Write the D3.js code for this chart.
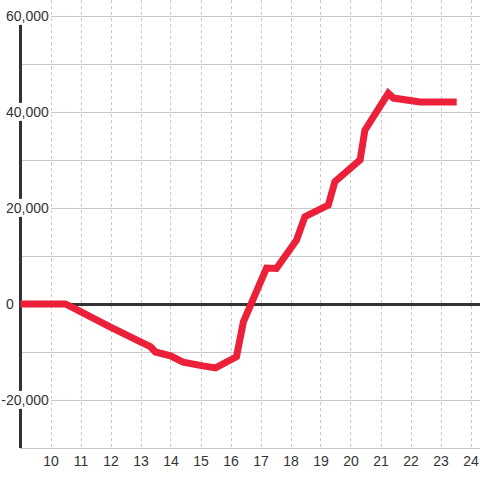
<!DOCTYPE html>
<html>
<head>
<meta charset="utf-8">
<script src="https://cdn.jsdelivr.net/npm/d3@7"></script>
<style>
	body { margin: 0; background: #fff; }
	svg { display: block; }
</style>
</head>
<body>
<div id="chart"></div>
<script>
// hour of day and running value
const hours = [9, 10.5, 11, 12, 13, 13.33, 13.5, 14, 14.42, 15.08, 15.5, 16.2, 16.43, 17.2, 17.53,
	18.2, 18.48, 19.26, 19.48, 20.32, 20.48, 21.26, 21.43, 22.32, 23.54];
const values = [0, 0, -1600, -4800, -7900, -8900, -10000, -10800, -12100, -12900, -13300, -11000, -3700, 7500, 7400,
	13300, 18200, 20600, 25500, 30000, 36200, 43900, 42900, 42100, 42100];
const xTicks = [10, 11, 12, 13, 14, 15, 16, 17, 18, 19, 20, 21, 22, 23, 24];
const yTicks = [-30000, -20000, -10000, 0, 10000, 20000, 30000, 40000, 50000, 60000];
const yLabels = [-20000, 0, 20000, 40000, 60000];

const WIDTH = 480;
const HEIGHT = 480;
const format = d3.format(",d");

const x = d3.scaleLinear().domain([9, 24]).range([20.5, 470.5]);
const y = d3.scaleLinear().domain([-30000, 60000]).range([448, 16]);

const svg = d3
	.select("#chart")
	.append("svg")
	.attr("width", WIDTH)
	.attr("height", HEIGHT)
	.style("font", "14px 'Liberation Sans', Arial, sans-serif");

// dashed vertical grid
svg.append("g")
	.selectAll("line")
	.data(xTicks)
	.join("line")
	.attr("x1", (d) => Math.round(x(d)) + 0.5)
	.attr("x2", (d) => Math.round(x(d)) + 0.5)
	.attr("y1", 0)
	.attr("y2", y(-30000))
	.attr("stroke", "#c8c8c8")
	.attr("stroke-dasharray", "3,3");

// horizontal grid
svg.append("g")
	.selectAll("line")
	.data(yTicks.filter((d) => d !== 0))
	.join("line")
	.attr("x1", 20)
	.attr("x2", WIDTH)
	.attr("y1", (d) => y(d) + 0.5)
	.attr("y2", (d) => y(d) + 0.5)
	.attr("stroke", "#c8c8c8");

// vertical axis line
svg.append("line")
	.attr("x1", 20.5)
	.attr("x2", 20.5)
	.attr("y1", y(60000))
	.attr("y2", y(-30000))
	.attr("stroke", "#333")
	.attr("stroke-width", 3);

// zero line
svg.append("line")
	.attr("x1", 19)
	.attr("x2", WIDTH)
	.attr("y1", y(0) + 0.5)
	.attr("y2", y(0) + 0.5)
	.attr("stroke", "#333")
	.attr("stroke-width", 3);

// y labels with white background
const yLab = svg.append("g")
	.selectAll("g")
	.data(yLabels)
	.join("g")
	.attr("transform", (d) => `translate(6,${y(d)})`);

const yText = yLab.append("text")
	.attr("dy", "0.35em")
	.attr("fill", "#333")
	.text((d) => format(Math.abs(d)));

yLab.filter((d) => d < 0)
	.append("text")
	.attr("dy", "0.35em")
	.attr("text-anchor", "end")
	.attr("fill", "#333")
	.text("-");

yLab.each(function () {
	const bb = this.getBBox();
	d3.select(this)
		.insert("rect", ":first-child")
		.attr("x", bb.x - 1)
		.attr("y", bb.y - 1)
		.attr("width", bb.width + 3)
		.attr("height", bb.height + 2)
		.attr("fill", "#fff");
});

// x labels
svg.append("g")
	.selectAll("text")
	.data(xTicks)
	.join("text")
	.attr("x", (d) => x(d) + 0.5)
	.attr("y", 466)
	.attr("text-anchor", "middle")
	.attr("fill", "#333")
	.text((d) => d);

// the line
const points = hours.map((h, i) => [h, values[i]]);
const line = d3.line()
	.x((d) => x(d[0]))
	.y((d) => y(d[1]));

svg.append("path")
	.datum(points)
	.attr("d", line)
	.attr("fill", "none")
	.attr("stroke", "#ec2038")
	.attr("stroke-width", 7)
	.attr("stroke-linejoin", "miter");
</script>
</body>
</html>
